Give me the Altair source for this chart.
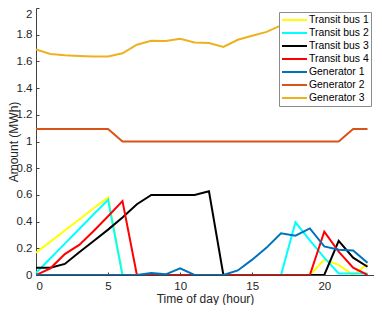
import altair as alt
import pandas as pd

hours = list(range(24))
series_names = ["Transit bus 1", "Transit bus 2", "Transit bus 3", "Transit bus 4",
                "Generator 1", "Generator 2", "Generator 3"]
series_colors = ["#FFFF00", "#00FFFF", "#000000", "#FF0000", "#0072BD", "#D95319", "#EDB120"]

transit_bus_1 = [0.167, 0.25, 0.333, 0.416, 0.5, 0.58, 0, 0, 0, 0, 0, 0,
                 0, 0, 0, 0, 0, 0, 0, 0, 0.115, 0.076, 0, 0.083]
transit_bus_2 = [0.015, 0.125, 0.235, 0.345, 0.455, 0.563, 0, 0, 0, 0, 0, 0,
                 0, 0, 0, 0, 0, 0, 0.395, 0.26, 0.13, 0.012, 0.012, 0.012]
transit_bus_3 = [0.054, 0.054, 0.083, 0.17, 0.255, 0.34, 0.43, 0.53, 0.6, 0.6, 0.6, 0.6,
                 0.627, 0, 0, 0, 0, 0, 0, 0, 0, 0.255, 0.13, 0.062]
transit_bus_4 = [0, 0.05, 0.157, 0.225, 0.33, 0.44, 0.553, 0, 0, 0, 0, 0,
                 0, 0, 0, 0, 0, 0, 0, 0, 0.325, 0.175, 0.055, 0]
generator_1 = [0, 0, 0, 0, 0, 0, 0, 0, 0.015, 0.005, 0.05, 0,
               0, 0, 0.034, 0.115, 0.205, 0.312, 0.294, 0.349, 0.214, 0.19, 0.183, 0.091]
generator_2 = [1.093, 1.093, 1.093, 1.093, 1.093, 1.093, 1.0, 1.0, 1.0, 1.0, 1.0, 1.0,
               1.0, 1.0, 1.0, 1.0, 1.0, 1.0, 1.0, 1.0, 1.0, 1.0, 1.093, 1.093]
generator_3 = [1.689, 1.656, 1.646, 1.641, 1.637, 1.637, 1.661, 1.725, 1.755, 1.752, 1.77, 1.742,
               1.737, 1.708, 1.762, 1.792, 1.821, 1.87, 1.89, 1.9, 1.91, 1.9, 1.88, 1.85]

x_ticks = [0, 5, 10, 15, 20]
y_ticks = [0, 0.2, 0.4, 0.6, 0.8, 1, 1.2, 1.4, 1.6, 1.8, 2]

all_series = [transit_bus_1, transit_bus_2, transit_bus_3, transit_bus_4,
              generator_1, generator_2, generator_3]

rows = []
for name, vals in zip(series_names, all_series):
    for h, v in zip(hours, vals):
        rows.append({"hour": h, "amount": v, "series": name})
df = pd.DataFrame(rows)

FONT = "Liberation Sans"
TXT = "#262626"
H = 267

color = alt.Color(
    "series:N",
    scale=alt.Scale(domain=series_names, range=series_colors),
    legend=alt.Legend(
        title=None, orient="none", legendX=243, legendY=4,
        fillColor="white", strokeColor="#8c8c8c", padding=2,
        symbolType="M-1,0H4", symbolSize=100, symbolStrokeWidth=2, symbolOffset=0,
        labelFontSize=10.4, labelColor="#000000", labelFont=FONT,
        rowPadding=1, labelOffset=16,
    ),
)

x = alt.X("hour:Q", scale=alt.Scale(domain=[0, 23.45], nice=False),
          axis=alt.Axis(values=x_ticks, title="Time of day (hour)", format="d",
                        titleY=27.5, titleBaseline="alphabetic"))
y = alt.Y("amount:Q", scale=alt.Scale(domain=[0, 2], nice=False),
          axis=alt.Axis(values=y_ticks, title="Amount (MWh)", format="~g",
                        labelOffset={"condition": {"test": "datum.value == 2", "value": 6}, "value": 0},
                        titleX=-16, titleY=H / 2, titleAngle=270,
                        titleAlign="center", titleBaseline="bottom"))

layers = [
    alt.Chart(df).transform_filter(alt.datum.series == name)
    .mark_line(strokeWidth=2, clip=True)
    .encode(x=x, y=y, color=color)
    for name in series_names
]

chart = (
    alt.layer(*layers)
    .properties(width=338, height=H,
                autosize=alt.AutoSizeParams(type="none"),
                padding={"left": 28, "top": 0, "right": 0, "bottom": 30})
    .configure(font=FONT)
    .configure_view(stroke=None)
    .configure_axis(grid=False, ticks=True, tickSize={"expr": "-3"}, tickColor="#404040",
                    tickWidth=1, domainColor="#404040", domainWidth=1,
                    labelColor=TXT, labelFontSize=11.5, labelFont=FONT, labelPadding=7,
                    titleColor=TXT, titleFontSize=12, titleFont=FONT, titleFontWeight="normal")
    .configure_axisX(labelPadding=8)
)

chart.save("out.html", embed_options={"renderer": "svg", "actions": False})
